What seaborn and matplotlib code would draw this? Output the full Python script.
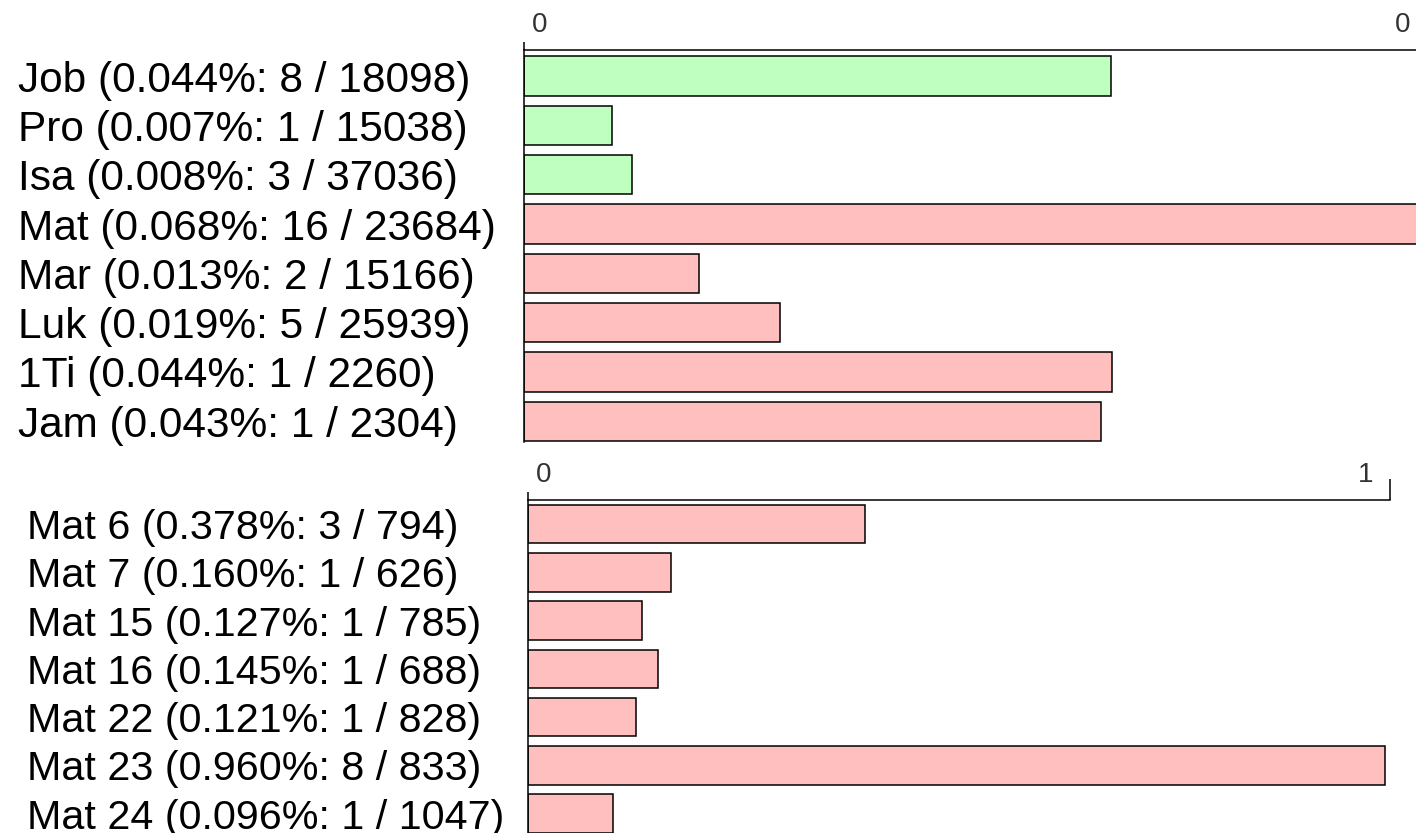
import numpy as np
import pandas as pd
import seaborn as sns
import matplotlib.pyplot as plt
from matplotlib.transforms import ScaledTranslation

# book level: hits / verses
books = ["Job", "Pro", "Isa", "Mat", "Mar", "Luk", "1Ti", "Jam"]
book_hits = [8, 1, 3, 16, 2, 5, 1, 1]
book_totals = [18098, 15038, 37036, 23684, 15166, 25939, 2260, 2304]
book_testament = ["OT", "OT", "OT", "NT", "NT", "NT", "NT", "NT"]

# chapter level (Matthew)
chapters = ["Mat 6", "Mat 7", "Mat 15", "Mat 16", "Mat 22", "Mat 23", "Mat 24"]
chap_hits = [3, 1, 1, 1, 1, 8, 1]
chap_totals = [794, 626, 785, 688, 828, 833, 1047]
chap_testament = ["NT"] * 7

pal = {"OT": "#bfffbf", "NT": "#ffbfbf"}


def make_df(names, hits, totals, testament):
    df = pd.DataFrame({"name": names, "hits": hits, "total": totals, "testament": testament})
    df["pct"] = df["hits"] / df["total"] * 100
    df["label"] = ["{} ({:.3f}%: {} / {})".format(n, p, h, t)
                   for n, p, h, t in zip(df["name"], df["pct"], df["hits"], df["total"])]
    return df


top = make_df(books, book_hits, book_totals, book_testament)
bot = make_df(chapters, chap_hits, chap_totals, chap_testament)

sns.set_style("white")
plt.rcParams["font.family"] = ["Liberation Sans", "DejaVu Sans"]

fig = plt.figure(figsize=(14.16, 8.33), dpi=100)
W, H = 1416, 833
ax1 = fig.add_axes([524 / W, 1 - 442 / H, 903 / W, 392 / H])
ax2 = fig.add_axes([528 / W, 0, 862 / W, 333 / H])


def panel(ax, df, ylim, label_pad, label_size):
    sns.barplot(data=df, x="pct", y="label", hue="testament", palette=pal,
                dodge=False, legend=False, width=0.8, edgecolor="black",
                linewidth=1.1, ax=ax, saturation=1)
    xmax = df["pct"].max() * 1.006
    ax.set_xlim(0, xmax)
    ax.set_ylim(*ylim)
    ax.set_xlabel("")
    ax.set_ylabel("")
    for s in ["right", "bottom"]:
        ax.spines[s].set_visible(False)
    for s in ["left", "top"]:
        ax.spines[s].set_color("black")
        ax.spines[s].set_linewidth(1.1)
    ax.xaxis.tick_top()
    ax.set_xticks([0, xmax])
    ax.set_xticklabels(["{:.0f}".format(v) for v in [0, xmax]])
    ax.tick_params(axis="x", top=True, length=5.8, width=1.1, color="black",
                   pad=3, labelsize=20, labelcolor="#333333")
    for lab in ax.get_xticklabels():
        lab.set_family(["Liberation Sans Narrow", "Liberation Sans"])
    labs = ax.get_xticklabels()
    labs[0].set_ha("left")
    labs[0].set_transform(labs[0].get_transform() + ScaledTranslation(8 / 100, 0, fig.dpi_scale_trans))
    labs[-1].set_ha("right")
    labs[-1].set_transform(labs[-1].get_transform() + ScaledTranslation(-17 / 100, 0, fig.dpi_scale_trans))
    ax.tick_params(axis="y", length=0, pad=label_pad, labelsize=label_size, labelcolor="black")
    for lab in ax.get_yticklabels():
        lab.set_ha("left")
    return ax


panel(ax1, top, (7.42, -0.53), 506 * 0.72, 30.5)
panel(ax2, bot, (6.4, -0.5), 501 * 0.72, 29.7)
# long end tick on the lower panel
ax2.xaxis.get_major_ticks()[-1].tick2line.set_markersize(15)

fig.savefig("out.png", dpi=100)
